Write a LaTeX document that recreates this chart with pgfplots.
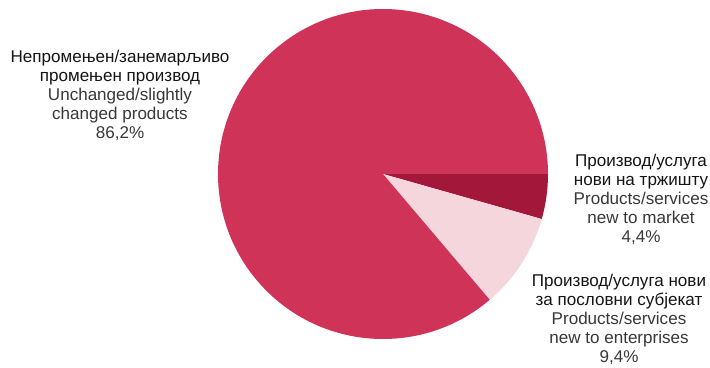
\documentclass[border=0pt]{standalone}
\usepackage{pgfplots}
\usepackage{pgfplotstable}
\pgfplotsset{compat=1.18}
\usepackage{fontspec}
\setmainfont{Liberation Sans}
\definecolor{crim}{HTML}{CF3358}
\definecolor{darkc}{HTML}{A3173A}
\definecolor{lightc}{HTML}{F6D6DD}
\definecolor{txtA}{HTML}{151515}
\definecolor{txtB}{HTML}{383838}
\pgfplotstableread{
value
4.4
9.4
86.2
}\piedata
\begin{document}
\begin{tikzpicture}
\pgfplotstablegetelem{0}{value}\of\piedata \let\va\pgfplotsretval
\pgfplotstablegetelem{1}{value}\of\piedata \let\vb\pgfplotsretval
\pgfplotstablegetelem{2}{value}\of\piedata \let\vc\pgfplotsretval
\pgfmathsetmacro{\aA}{-\va*3.6}
\pgfmathsetmacro{\aB}{\aA-\vb*3.6}
\pgfmathsetmacro{\aC}{\aB-\vc*3.6}
\begin{axis}[width=18cm,height=9.3042cm,scale only axis,
  xmin=0,xmax=710,ymin=0,ymax=367,hide axis,clip=false]
\fill[darkc] (axis cs:383,193) -- (axis cs:548,193) arc[start angle=0,end angle=\aA,radius=165] -- cycle;
\fill[lightc] (axis cs:383,193) -- ++(axis direction cs:{165*cos(\aA)},{165*sin(\aA)}) arc[start angle=\aA,end angle=\aB,radius=165] -- cycle;
\fill[crim] (axis cs:383,193) -- ++(axis direction cs:{165*cos(\aB)},{165*sin(\aB)}) arc[start angle=\aB,end angle=\aC,radius=165] -- cycle;
\node[align=center,font=\fontsize{12.3}{13.7}\selectfont] at (axis cs:120,272)
 {\textcolor{txtA}{Непромењен/занемарљиво}\\\textcolor{txtA}{промењен производ}\\\textcolor{txtB}{Unchanged/slightly}\\\textcolor{txtB}{changed products}\\\textcolor{txtB}{86,2\%}};
\node[align=center,font=\fontsize{12.3}{13.7}\selectfont] at (axis cs:641,167.5)
 {\textcolor{txtA}{Производ/услуга}\\\textcolor{txtA}{нови на тржишту}\\\textcolor{txtB}{Products/services}\\\textcolor{txtB}{new to market}\\\textcolor{txtB}{4,4\%}};
\node[align=center,font=\fontsize{12.3}{13.7}\selectfont] at (axis cs:619,47.5)
 {\textcolor{txtA}{Производ/услуга нови}\\\textcolor{txtA}{за пословни субјекат}\\\textcolor{txtB}{Products/services}\\\textcolor{txtB}{new to enterprises}\\\textcolor{txtB}{9,4\%}};
\end{axis}
\pgfresetboundingbox
\path (current axis.south west) rectangle (current axis.north east);
\end{tikzpicture}
\end{document}
